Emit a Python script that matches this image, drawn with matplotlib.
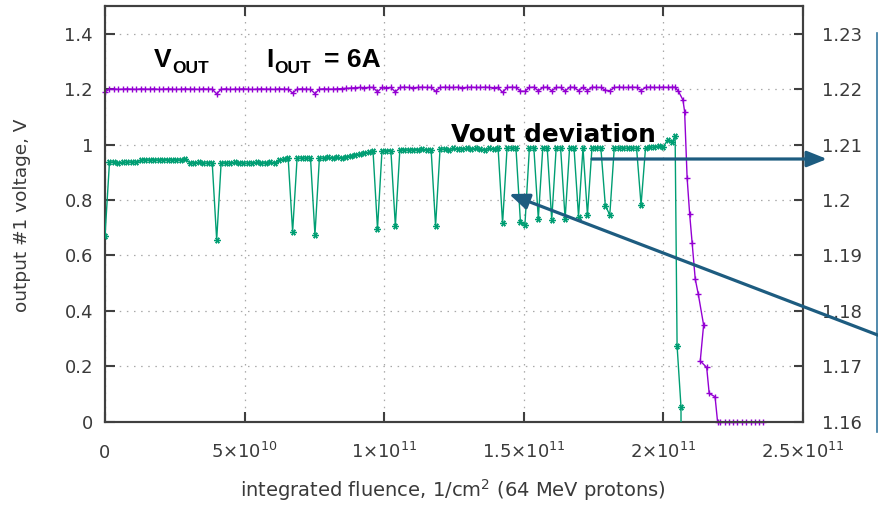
import matplotlib
matplotlib.use("Agg")
import matplotlib.pyplot as plt
from matplotlib.ticker import FixedLocator, FormatStrFormatter
from matplotlib.lines import Line2D

plt.rcParams['font.family'] = ['DejaVu Sans']
plt.rcParams['mathtext.default'] = 'regular'

# ---------------- data ----------------
# integrated fluence, units of 1e9 protons/cm^2
fluence = [0, 1.6, 3.2, 4.8, 6.4, 8, 9.6, 11.2, 12.8, 14.4, 16, 17.6, 19.2, 20.8, 22.4, 24,
           25.6, 27.2, 28.8, 30.4, 32, 33.6, 35.2, 36.8, 38.4, 40, 41.6, 43.2, 44.8, 46.4, 48,
           49.6, 51.2, 52.8, 54.4, 56, 57.6, 59.2, 60.8, 62.4, 64, 65.6, 67.2, 68.8, 70.4, 72,
           73.6, 75.2, 76.8, 78.4, 80, 81.6, 83.2, 84.8, 86.4, 88, 89.6, 91.2, 92.8, 94.4, 96,
           97.6, 99.2, 100.8, 102.4, 104, 105.6, 107.2, 108.8, 110.4, 112, 113.6, 115.2, 116.8,
           118.4, 120, 121.6, 123.2, 124.8, 126.4, 128, 129.6, 131.2, 132.8, 134.4, 136, 137.6,
           139.2, 140.8, 142.4, 144, 145.6, 147.2, 148.8, 150.4, 152, 153.6, 155.2, 156.8, 158.4,
           160, 161.6, 163.2, 164.8, 166.4, 168, 169.6, 171.2, 172.8, 174.4, 176, 177.6, 179.2,
           180.8, 182.4, 184, 185.6, 187.2, 188.8, 190.4, 192, 193.6, 195.2, 196.8, 198.4, 200,
           201.6, 203.2, 204.2]

# output voltage (left axis, V)
vout = [1.190,
        1.200, 1.201, 1.199, 1.200, 1.201, 1.200, 1.199, 1.201, 1.200, 1.200, 1.201, 1.199,
        1.200, 1.201, 1.200, 1.199, 1.200, 1.201, 1.200, 1.200, 1.199, 1.201, 1.200, 1.200,
        1.183,
        1.200, 1.201, 1.199, 1.200, 1.200, 1.201, 1.200, 1.199, 1.200, 1.201, 1.200, 1.200,
        1.199, 1.201, 1.200, 1.200,
        1.186,
        1.200, 1.201, 1.200, 1.199,
        1.184,
        1.200, 1.201, 1.200, 1.200, 1.201, 1.202, 1.203, 1.204,
        1.205, 1.206, 1.205, 1.206, 1.206,
        1.190,
        1.206, 1.205, 1.206,
        1.190,
        1.206, 1.207, 1.206, 1.205, 1.206, 1.207, 1.206, 1.206,
        1.192,
        1.206, 1.207, 1.206, 1.206, 1.207, 1.205, 1.206, 1.207, 1.206, 1.206, 1.207, 1.206,
        1.205, 1.206,
        1.188,
        1.206, 1.207, 1.206,
        1.193, 1.192,
        1.206, 1.207,
        1.194,
        1.206, 1.207,
        1.194,
        1.206, 1.206,
        1.193,
        1.207, 1.206,
        1.195,
        1.206,
        1.195,
        1.207, 1.206, 1.206,
        1.196, 1.194,
        1.206, 1.207, 1.206, 1.206, 1.207, 1.206,
        1.195,
        1.206, 1.207, 1.206, 1.206, 1.207, 1.206, 1.207, 1.207]

# output voltage collapse after failure (left axis)
fluence_vout_tail = [205.4, 207.0, 207.6, 208.5, 209.4, 210.3, 211.4, 212.5, 214.4, 213.2,
                     215.5, 216.4, 218.5, 219.4, 220.4, 221.9, 223.4, 225.0, 226.5, 228.1,
                     229.7, 231.2, 232.7, 234.3, 235.8]
vout_tail = [1.192, 1.161, 1.119, 0.879, 0.750, 0.644, 0.515, 0.460, 0.349, 0.219,
             0.196, 0.102, 0.090, 0.0, 0.0, 0.0, 0.0, 0.0, 0.0, 0.0,
             0.0, 0.0, 0.0, 0.0, 0.0]

# Vout deviation (right axis, V)
vdev = [1.1935,
        1.2068, 1.2069, 1.2067, 1.2068, 1.2068, 1.2069, 1.2068,
        1.2072, 1.2073, 1.2072, 1.2073, 1.2072, 1.2073, 1.2073, 1.2072, 1.2073, 1.2072, 1.2074,
        1.2067, 1.2067, 1.2068, 1.2066, 1.2067, 1.2067,
        1.1928,
        1.2067, 1.2067, 1.2066, 1.2068, 1.2067, 1.2067, 1.2066, 1.2067, 1.2068, 1.2067, 1.2067,
        1.2068, 1.2067,
        1.2072, 1.2074, 1.2076,
        1.1943,
        1.2075, 1.2076, 1.2075, 1.2076,
        1.1937,
        1.2076, 1.2075, 1.2077, 1.2076, 1.2077, 1.2076, 1.2078,
        1.2080, 1.2082, 1.2083, 1.2084,
        1.2086, 1.2088,
        1.1948,
        1.2088, 1.2089, 1.2089,
        1.1953,
        1.2090, 1.2091, 1.2090, 1.2091, 1.2091, 1.2092, 1.2090, 1.2091,
        1.1953,
        1.2092, 1.2092, 1.2091, 1.2093, 1.2092, 1.2092, 1.2093, 1.2092, 1.2093, 1.2092, 1.2091,
        1.2093, 1.2092, 1.2093,
        1.1958,
        1.2093, 1.2094, 1.2093,
        1.1960, 1.1955,
        1.2093, 1.2094,
        1.1966,
        1.2094, 1.2093,
        1.1964,
        1.2094, 1.2093,
        1.1966,
        1.2094, 1.2093,
        1.1970,
        1.2094,
        1.1973,
        1.2093, 1.2094, 1.2094,
        1.1990, 1.1973,
        1.2094, 1.2093, 1.2094, 1.2093, 1.2094, 1.2093,
        1.1991,
        1.2094, 1.2095, 1.2095,
        1.2098, 1.2096, 1.2109, 1.2105, 1.2116]

fluence_vdev_tail = [204.9, 206.3, 206.6]
vdev_tail = [1.1737, 1.1627, 1.1000]

x_ticks = [0, 50, 100, 150, 200, 250]
x_tick_labels = ['0', r'5$\times$10$^{10}$', r'1$\times$10$^{11}$', r'1.5$\times$10$^{11}$',
                 r'2$\times$10$^{11}$', r'2.5$\times$10$^{11}$']
left_ticks = [0, 0.2, 0.4, 0.6, 0.8, 1.0, 1.2, 1.4]
right_ticks = [1.16, 1.17, 1.18, 1.19, 1.20, 1.21, 1.22, 1.23]

# ---------------- figure ----------------
W, H = 879, 505
fig = plt.figure(figsize=(W / 100, H / 100), dpi=100)


def fx(px):
    return px / W


def fy(py):
    return 1 - py / H


ax = fig.add_axes([fx(105), fy(421.7), fx(803) - fx(105), fy(6) - fy(421.7)])
ax2 = ax.twinx()

PURPLE = '#9400d3'
GREEN = '#009e73'
SPINE = '#404040'
TXT = '#3a3a3a'

ax.plot(fluence + fluence_vout_tail, vout + vout_tail, color=PURPLE, lw=1.0,
        marker='+', ms=4, mew=1.0, clip_on=False, zorder=3)
ax2.plot(fluence + fluence_vdev_tail, vdev + vdev_tail, color=GREEN, lw=1.0,
         marker=(6, 2, 90), ms=4.5, mew=1.0, zorder=3)

ax.set_xlim(0, 250)
ax.set_ylim(0, 1.5)
ax2.set_ylim(1.16, 1.235)

ax.xaxis.set_major_locator(FixedLocator(x_ticks))
ax.set_xticklabels(x_tick_labels)
ax.yaxis.set_major_locator(FixedLocator(left_ticks))
ax.yaxis.set_major_formatter(FormatStrFormatter('%g'))
ax2.yaxis.set_major_locator(FixedLocator(right_ticks))
ax2.yaxis.set_major_formatter(FormatStrFormatter('%g'))

ax.grid(True, color='#a8a8a8', lw=0.9, linestyle=(0, (1.2, 4.5)))
ax.set_axisbelow(True)

for a in (ax, ax2):
    for s in a.spines.values():
        s.set_color(SPINE)
        s.set_linewidth(1.5)

ax.tick_params(axis='both', direction='in', length=7.2, width=1.5, color=SPINE,
               labelcolor=TXT, labelsize=13)
ax.tick_params(axis='x', top=True, bottom=True, pad=26)
ax.tick_params(axis='y', left=True, right=False, pad=8.6)
ax2.tick_params(axis='y', direction='in', length=6.5, width=1.5, color=SPINE,
                labelcolor=TXT, labelsize=13, pad=13.5, right=True, left=False)
for lab in ax.get_xticklabels():
    lab.set_verticalalignment('baseline')

fig.text(fx(452.5), fy(497), r'integrated fluence, 1/cm$^{2}$ (64 MeV protons)',
         ha='center', va='baseline', fontsize=14, color=TXT)
fig.text(fx(22), fy(215), 'output #1 voltage, V', rotation=90, ha='center', va='center',
         fontsize=13.3, color=TXT)

# ---------------- annotations ----------------
bold = dict(family=['Liberation Sans', 'DejaVu Sans'], weight='bold', color='black')
fig.text(fx(154), fy(66.7), 'V', fontsize=19, va='baseline', **bold)
fig.text(fx(172.5), fy(72.7), 'OUT', fontsize=12.5, va='baseline', **bold)
fig.text(fx(266.5), fy(66.7), 'I', fontsize=19, va='baseline', **bold)
fig.text(fx(274.5), fy(72.7), 'OUT', fontsize=12.5, va='baseline', **bold)
fig.text(fx(324.5), fy(66.7), '= 6A', fontsize=19, va='baseline', **bold)
fig.text(fx(451.5), fy(141.7), 'Vout deviation', fontsize=17.8, va='baseline',
         family=['DejaVu Sans'], weight='bold', color='black')

ARROW = '#1d5c80'
astyle = dict(arrowstyle='-|>,head_length=0.4,head_width=0.16', color=ARROW, lw=2.3,
              mutation_scale=30, shrinkA=0, shrinkB=0)
fig.add_artist(plt.Annotation('', xy=(fx(827), fy(159)), xytext=(fx(592), fy(159)),
                              xycoords='figure fraction', textcoords='figure fraction',
                              arrowprops=astyle, annotation_clip=False))
fig.add_artist(plt.Annotation('', xy=(fx(509), fy(194)), xytext=(fx(886), fy(338.2)),
                              xycoords='figure fraction', textcoords='figure fraction',
                              arrowprops=astyle, annotation_clip=False))
fig.add_artist(Line2D([fx(877.5), fx(877.5)], [fy(33), fy(432)], color='#3477a0', lw=1.2))

fig.savefig('out.png', dpi=100)
